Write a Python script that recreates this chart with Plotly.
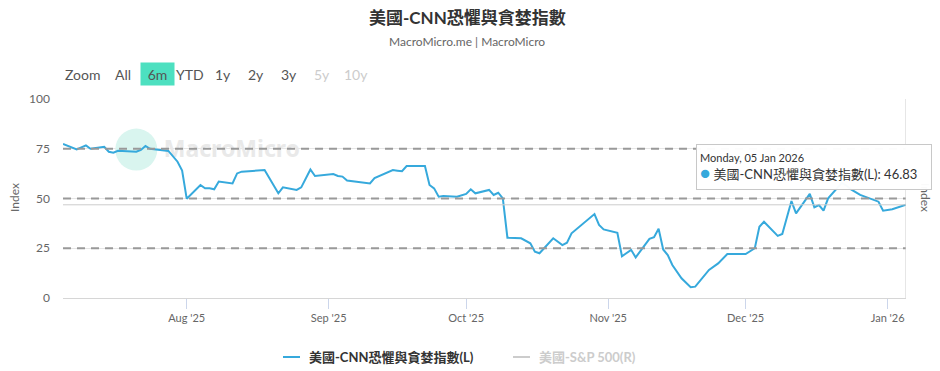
import plotly.graph_objects as go

# ---------------- data ----------------
dates = [
    "2025-07-05", "2025-07-08", "2025-07-10", "2025-07-11", "2025-07-14", "2025-07-15",
    "2025-07-16", "2025-07-17", "2025-07-21", "2025-07-22", "2025-07-23", "2025-07-24",
    "2025-07-28", "2025-07-30", "2025-07-31", "2025-08-01", "2025-08-04", "2025-08-05",
    "2025-08-06", "2025-08-07", "2025-08-08", "2025-08-11", "2025-08-12", "2025-08-13",
    "2025-08-18", "2025-08-21", "2025-08-22", "2025-08-25", "2025-08-26", "2025-08-28",
    "2025-08-29", "2025-09-02", "2025-09-03", "2025-09-04", "2025-09-05", "2025-09-10",
    "2025-09-11", "2025-09-15", "2025-09-16", "2025-09-17", "2025-09-18", "2025-09-22",
    "2025-09-23", "2025-09-24", "2025-09-25", "2025-09-26", "2025-09-29", "2025-10-01",
    "2025-10-02", "2025-10-03", "2025-10-06", "2025-10-07", "2025-10-08", "2025-10-09",
    "2025-10-10", "2025-10-13", "2025-10-15", "2025-10-16", "2025-10-17", "2025-10-20",
    "2025-10-22", "2025-10-23", "2025-10-24", "2025-10-27", "2025-10-29", "2025-10-30",
    "2025-10-31", "2025-11-03", "2025-11-04", "2025-11-06", "2025-11-07", "2025-11-10",
    "2025-11-11", "2025-11-12", "2025-11-13", "2025-11-14", "2025-11-15", "2025-11-17",
    "2025-11-18", "2025-11-19", "2025-11-20", "2025-11-23", "2025-11-25", "2025-11-27",
    "2025-12-01", "2025-12-03", "2025-12-04", "2025-12-05", "2025-12-08", "2025-12-09",
    "2025-12-11", "2025-12-12", "2025-12-15", "2025-12-16", "2025-12-17", "2025-12-18",
    "2025-12-19", "2025-12-21", "2025-12-22", "2025-12-23", "2025-12-24", "2025-12-26",
    "2025-12-28", "2025-12-30", "2025-12-31", "2026-01-02", "2026-01-05",
]
fear_greed = [
    77.4, 74.7, 76.7, 75.0, 76.0, 73.5,
    73.0, 74.0, 73.5, 74.4, 76.4, 75.0,
    73.9, 68.5, 64.0, 49.9, 56.8, 55.1,
    55.1, 54.6, 58.5, 57.6, 62.6, 63.5,
    64.3, 52.6, 55.6, 54.3, 55.6, 64.6,
    61.3, 62.3, 61.3, 61.0, 59.0, 57.6,
    60.2, 64.3, 64.0, 63.7, 66.3, 66.3,
    56.8, 55.1, 50.9, 51.3, 50.9, 52.3,
    54.6, 52.6, 54.3, 51.8, 52.9, 50.1,
    30.3, 30.0, 27.5, 23.3, 22.5, 30.0,
    26.6, 27.8, 32.5, 38.3, 42.2, 36.7,
    34.5, 32.8, 21.0, 24.2, 20.4, 29.7,
    30.6, 34.8, 24.4, 21.6, 16.6, 9.9,
    7.7, 5.4, 5.7, 14.1, 17.4, 22.1,
    22.1, 25.0, 35.8, 38.3, 31.2, 32.2,
    48.7, 42.5, 52.3, 45.6, 46.7, 43.9,
    50.1, 55.1, 57.9, 56.5, 54.6, 51.8,
    50.1, 48.4, 43.9, 44.6, 46.83,
]

ref_levels = [25, 50, 75]
y_ticks = [0, 25, 50, 75, 100]
x_range = ["2025-07-05", "2026-01-05"]
range_buttons = ["All", "6m", "YTD", "1y", "2y", "3y", "5y", "10y"]
disabled_buttons = ["5y", "10y"]
title_text = "美國-CNN恐懼與貪婪指數"
subtitle_text = "MacroMicro.me | MacroMicro"
series_name = "美國-CNN恐懼與貪婪指數(L)"
sp_name = "美國-S&P 500(R)"
tooltip_date = "Monday, 05 Jan 2026"

# ---------------- layout helpers ----------------
W, H = 940, 371
L, R, T, B = 63, 34, 99, 73
PW, PH = W - L - R, H - T - B
FONT = "Lato, Noto Sans CJK TC, sans-serif"
BLUE = "#36a9dc"


def px(xp):
    return (xp - L) / PW


def py(yp):
    return (H - B - yp) / PH


def text_ann(text, x, y, size, color, xanchor="center", **kw):
    d = dict(text=text, x=px(x), y=py(y), xref="paper", yref="paper", showarrow=False,
             xanchor=xanchor, yanchor="middle",
             font=dict(size=size, color=color, family=FONT))
    d.update(kw)
    return d


fig = go.Figure()

# faint MacroMicro watermark (drawn under the line)
fig.add_trace(go.Scatter(
    x=["2025-07-21"], y=[74.6], mode="markers",
    marker=dict(size=42, color="#d9f5ef"), hoverinfo="skip", showlegend=False))
fig.add_trace(go.Scatter(
    x=["2025-07-27"], y=[73.8], mode="text", text=["<b>MacroMicro</b>"],
    textposition="middle right", textfont=dict(size=23, color="#e9e9e9", family="Noto Sans"),
    hoverinfo="skip", showlegend=False))

fig.add_trace(go.Scatter(
    x=dates, y=fear_greed, mode="lines", name=series_name,
    line=dict(color=BLUE, width=2), showlegend=False))

shapes = []
for lv in ref_levels:
    shapes.append(dict(type="line", xref="paper", x0=0, x1=1, yref="y", y0=lv, y1=lv,
                       line=dict(color="#999999", width=2, dash="8px,6px"), layer="above"))
# crosshair at hovered point
shapes.append(dict(type="line", xref="paper", x0=0, x1=1, yref="y",
                   y0=fear_greed[-1], y1=fear_greed[-1], line=dict(color="#cccccc", width=1)))
shapes.append(dict(type="line", xref="x", x0=dates[-1], x1=dates[-1], yref="paper",
                   y0=0, y1=1, line=dict(color="#cccccc", width=1)))
# legend symbols
shapes.append(dict(type="line", xref="paper", yref="paper", x0=px(283), x1=px(300),
                   y0=py(357), y1=py(357), line=dict(color=BLUE, width=2)))
shapes.append(dict(type="line", xref="paper", yref="paper", x0=px(513), x1=px(530),
                   y0=py(357), y1=py(357), line=dict(color="#cccccc", width=2)))

annotations = [
    text_ann(f"<b>{title_text}</b>", 467, 18, 17, "#333333"),
    text_ann(subtitle_text, 467, 42, 12, "#666666"),
    text_ann("Zoom", 82, 74, 14, "#555555"),
    text_ann("Index", 14, 198, 12, "#666666", textangle=-90),
    text_ann("Index", 926, 198, 12, "#666666", textangle=90),
    text_ann(f"<b>{series_name}</b>", 307, 357, 13, "#333333", xanchor="left"),
    text_ann(f"<b>{sp_name}</b>", 537, 357, 13, "#cccccc", xanchor="left"),
]
btn_x = [123, 157, 190, 223, 256, 289, 322, 356]
for lab, bx in zip(range_buttons, btn_x):
    col = "#cccccc" if lab in disabled_buttons else "#555555"
    a = text_ann(lab, bx, 74, 14, col)
    if lab == "6m":
        a.update(bgcolor="#4de0c0", width=31, height=20)
    annotations.append(a)

# tooltip box
annotations.append(dict(
    text=(f"<span style='font-size:11px;color:#333333'>{tooltip_date}</span><br>"
          f"<span style='color:{BLUE};font-size:17px'>●</span> {series_name}: 46.83"),
    x=px(696), y=py(144), xref="paper", yref="paper", xanchor="left", yanchor="top",
    showarrow=False, align="left", valign="middle", width=228, height=38,
    bgcolor="rgba(255,255,255,0.97)", bordercolor="#c8c8c8", borderwidth=1, borderpad=3,
    font=dict(size=13, color="#333333", family=FONT)))

fig.update_layout(
    width=W, height=H, margin=dict(l=L, r=R, t=T, b=B, autoexpand=False),
    paper_bgcolor="white", plot_bgcolor="white",
    font=dict(family=FONT, color="#666666"),
    showlegend=False,
    shapes=shapes, annotations=annotations,
    xaxis=dict(range=x_range, type="date", tickformat="%b '%y", dtick="M1",
               tick0="2025-08-01", ticks="outside", ticklen=10, tickcolor="#ccd6eb",
               showgrid=False, showline=True, linecolor="#d6d6d6", zeroline=False,
               tickfont=dict(size=11, color="#666666"), fixedrange=True),
    yaxis=dict(range=[0, 100], tickvals=y_ticks, showgrid=True, gridcolor="#e6e6e6",
               zeroline=False, showline=False, ticks="",
               tickfont=dict(size=12, color="#666666"), ticklabelstandoff=12,
               fixedrange=True),
    hovermode=False,
)

fig.write_html("out.html")
